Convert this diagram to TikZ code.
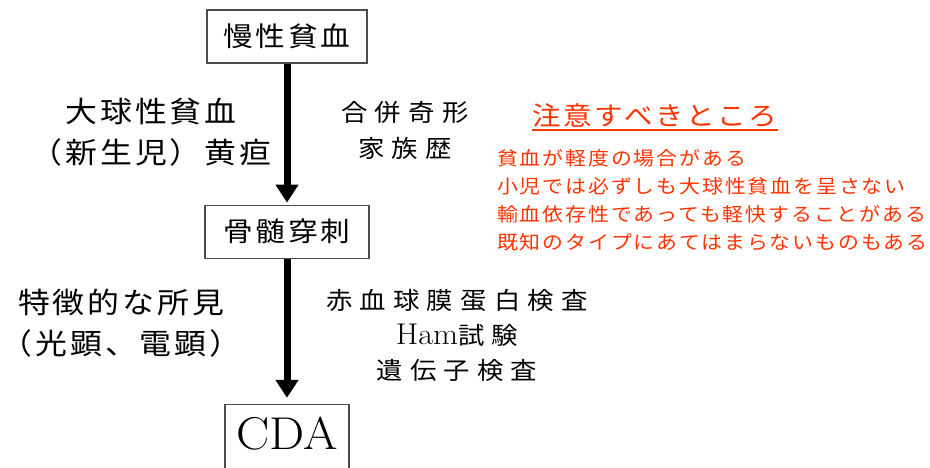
\documentclass[tikz,border=0pt]{standalone}
\usepackage{fontspec}
\usetikzlibrary{arrows.meta,positioning}
\newfontfamily\jpfont{Noto Sans CJK JP}[FakeStretch=1.1,LetterSpace=10]
\newfontfamily\jpwide{Noto Sans CJK JP}[FakeStretch=1.1,LetterSpace=30]
\newfontfamily\lmwide{Latin Modern Roman}[FakeStretch=1.08]
\definecolor{notered}{RGB}{255,51,0}

\begin{document}
\begin{tikzpicture}[x=1pt,y=-1pt,node distance=141pt,>={Triangle[width=22pt,length=18pt]}]
\tikzstyle{block}=[rectangle,draw=black!70,line width=1.2pt,align=center,minimum height=53pt,font=\jpfont\fontsize{27pt}{30pt}\selectfont]
\tikzstyle{flow}=[->,line width=7pt]
\tikzstyle{finding}=[align=center,inner sep=0pt,font=\jpfont\fontsize{29pt}{41pt}\selectfont]
\tikzstyle{check}=[align=center,inner sep=0pt,font=\jpwide\fontsize{24pt}{36pt}\selectfont]
\tikzstyle{caution}=[align=left,inner sep=0pt,text=notered,font=\jpfont\fontsize{19pt}{28pt}\selectfont]
\useasboundingbox (0,0) rectangle (930,467);
\fill[white] (0,0) rectangle (930,467);
% flow
\node[block,minimum width=160pt] (anemia) at (287,36.5) {慢性貧血};
\node[block,minimum width=164pt,below=of anemia] (marrow) {骨髄穿刺};
\node[block,minimum width=124pt,inner xsep=0pt,inner ysep=14pt,text height=31pt,text depth=40pt,below=145pt of marrow,font=\lmwide\fontsize{46pt}{50pt}\selectfont] (cda) {CDA};
\draw[flow,shorten >=2pt] (anemia) -- (marrow);
\draw[flow,shorten >=6pt] (marrow) -- (cda);
% side notes
\node[finding] (macro) at (151,132) {大球性貧血\\（新生児）黄疸};
\node[check] (family) at (405,130) {合併奇形\\家族歴};
\node[finding] (morph) at (121,323) {特徴的な所見\\（光顕、電顕）};
\node[check,font=\jpwide\fontsize{24pt}{35pt}\selectfont] (tests) at (457,335) {赤血球膜蛋白検査\\{\lmwide\fontsize{30pt}{35pt}\selectfont Ham}試験\\遺伝子検査};
% cautions
\node[inner sep=0pt,text=notered,font=\jpfont\fontsize{26pt}{28pt}\selectfont] (title) at (655,115) {注意すべきところ};
\draw[notered,line width=1.5pt] ([yshift=-3pt]title.south west) -- ([yshift=-3pt]title.south east);
\node[caution,anchor=west] (points) at (497,200) {貧血が軽度の場合がある\\小児では必ずしも大球性貧血を呈さない\\輸血依存性であっても軽快することがある\\既知のタイプにあてはまらないものもある};
\end{tikzpicture}
\end{document}
